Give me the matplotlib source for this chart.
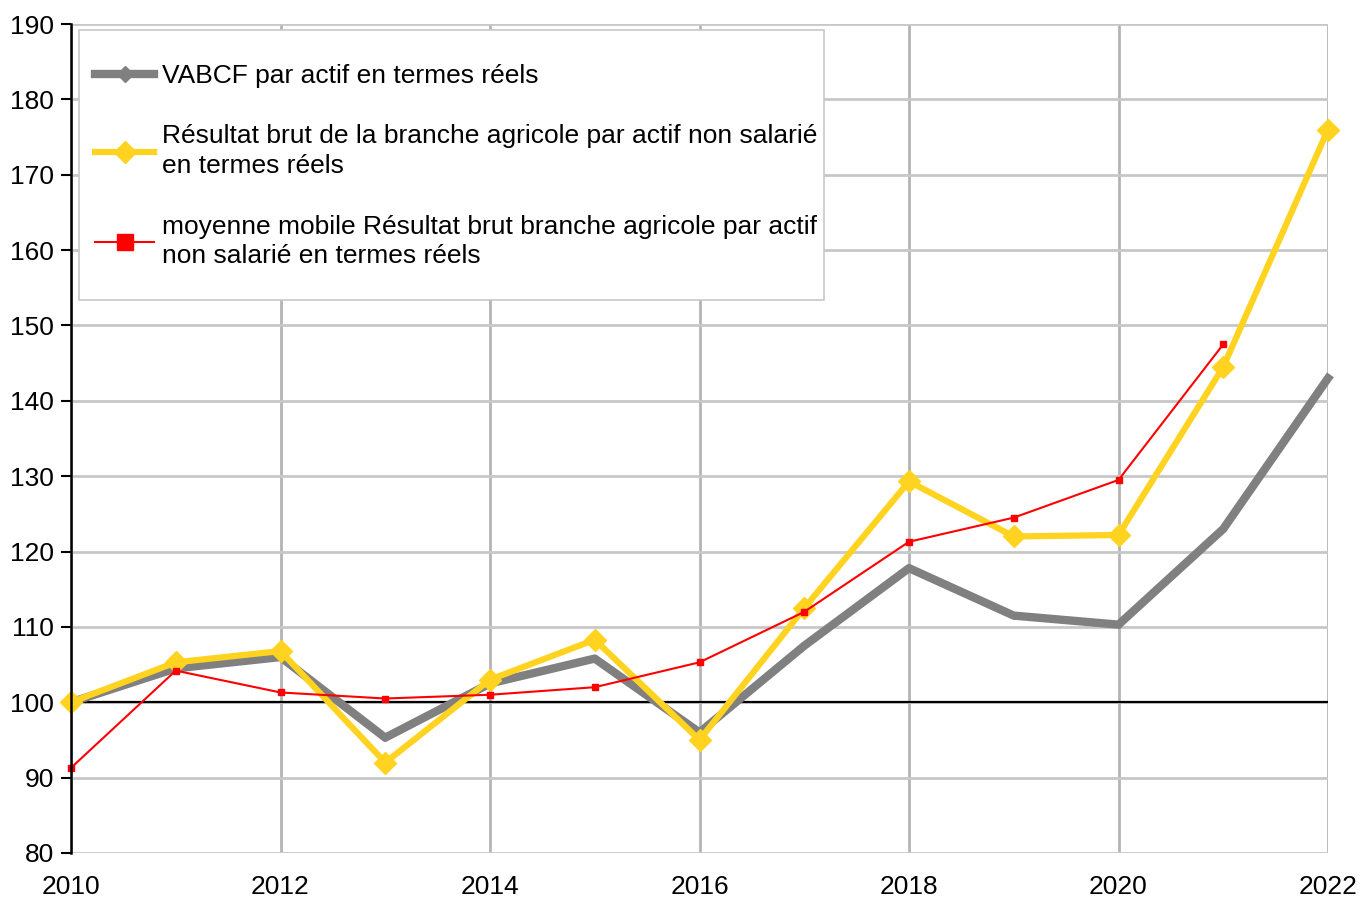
import matplotlib

matplotlib.use("Agg")
import matplotlib.pyplot as plt
from matplotlib.patches import Rectangle

plt.rcParams["font.family"] = ["Liberation Sans", "DejaVu Sans"]

years = list(range(2010, 2023))
vabcf = [100, 104.5, 106, 95.3, 102.5, 105.8, 96, 107.5, 117.8, 111.5, 110.3, 123, 143]
resultat = [100, 105.3, 106.8, 92, 103, 108.3, 95, 112.5, 129.3, 122, 122.2, 144.5, 176]
moy_years = list(range(2010, 2022))
moyenne = [91.3, 104.2, 101.3, 100.5, 101, 102, 105.3, 112, 121.3, 124.5, 129.5, 147.5]

labels = [
    "VABCF par actif en termes réels",
    "Résultat brut de la branche agricole par actif non salarié\nen termes réels",
    "moyenne mobile Résultat brut branche agricole par actif\nnon salarié en termes réels",
]

GRAY = "#808080"
YELLOW = "#FFD320"
RED = "#FF0000"
FS = 19

fig = plt.figure(figsize=(13.61, 9), dpi=100)
ax = fig.add_axes([71 / 1361, 1 - 853 / 900, (1328 - 71) / 1361, (853 - 24) / 900])

l1, = ax.plot(years, vabcf, color=GRAY, lw=6, marker="D", ms=3, zorder=4,
              clip_on=False, label=labels[0])
l2, = ax.plot(years, resultat, color=YELLOW, lw=4.5, marker="D", ms=11, zorder=5,
              clip_on=False, label=labels[1])
l3, = ax.plot(moy_years, moyenne, color=RED, lw=1.5, marker="s", ms=4.5, zorder=6,
              clip_on=False, label=labels[2])

ax.axhline(100, color="black", lw=1.6, zorder=3)

ax.set_xlim(2010, 2022)
ax.set_ylim(80, 190)
ax.set_xticks(range(2010, 2023, 2))
ax.set_yticks(range(80, 191, 10))
ax.tick_params(axis="y", direction="out", length=7, width=1.5, pad=5, labelsize=FS, colors="black")
ax.tick_params(axis="x", length=0, pad=16, labelsize=FS)

for s in ("top", "right", "bottom"):
    ax.spines[s].set_visible(False)
ax.spines["left"].set_linewidth(1.8)
ax.spines["left"].set_zorder(7)

ax.yaxis.grid(True, color="#c8c8c8", lw=2)
ax.xaxis.grid(True, color="#b4b4b4", lw=2)
ax.set_axisbelow(True)

# legend frame drawn separately for the uneven padding
ax.add_patch(Rectangle((79 / 1361, 1 - 300 / 900), 745 / 1361, 270 / 900,
                       transform=fig.transFigure, facecolor="white",
                       edgecolor="#c8c8c8", lw=1.2, zorder=8, clip_on=False))
leg = ax.legend(handles=[l1, l2, l3], loc="upper left",
                bbox_to_anchor=(95 / 1361, 1 - 64 / 900), bbox_transform=fig.transFigure,
                frameon=False, fontsize=FS, borderpad=0, borderaxespad=0,
                handlelength=2.25, handletextpad=0.3, labelspacing=1.38)
leg.set_zorder(9)
for t in leg.get_texts():
    t.set_linespacing(1.3)
sizes = [8, 11, 11]
for h, s in zip(leg.legend_handles, sizes):
    h.set_markersize(s)

fig.savefig("out.png", dpi=100, facecolor="white")
